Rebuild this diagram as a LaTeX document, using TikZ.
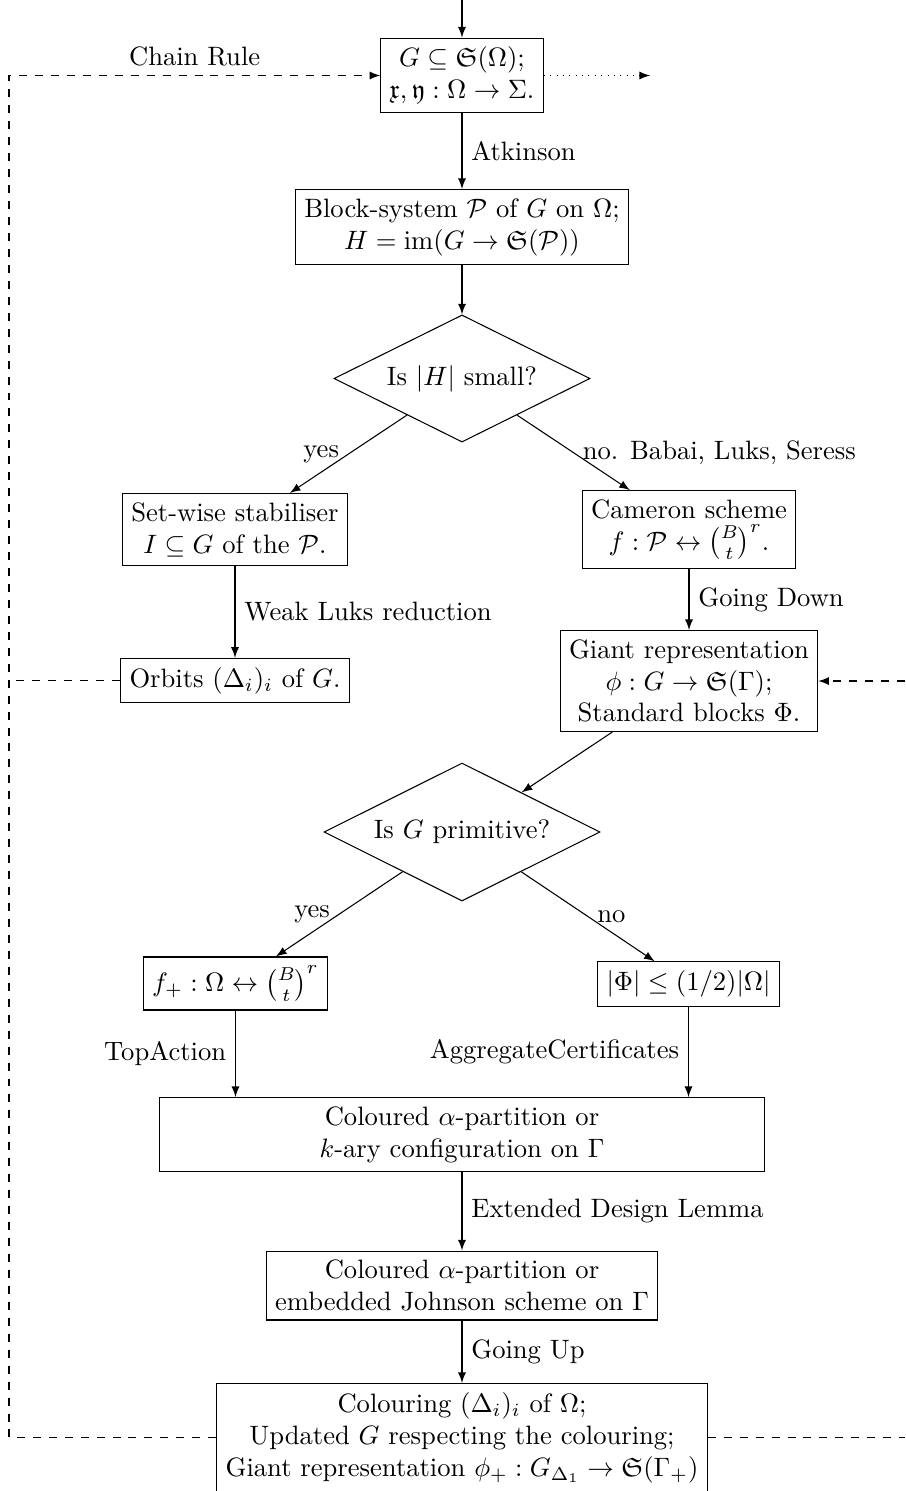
\documentclass[tikz,border=0pt]{standalone}
\usepackage{amsmath,amssymb}
\usetikzlibrary{shapes.geometric}
\tikzset{
  box/.style={draw, align=center, inner sep=3.333pt},
  dia/.style={draw, diamond, shape aspect=2, inner sep=0pt, align=center},
  arr/.style={-latex},
}
\begin{document}
\begin{tikzpicture}[x=0.3761pt, y=-0.3761pt]
\useasboundingbox (0,0) rectangle (905,1491);
% nodes
\node[box] (top) at (462,75.5) {$G \subseteq \mathfrak{S}(\Omega)$;\\ $\mathfrak{x},\mathfrak{y} : \Omega \to \Sigma$.};
\node[box] (block) at (462,227) {Block-system $\mathcal{P}$ of $G$ on $\Omega$;\\ $H = \mathrm{im}(G \to \mathfrak{S}(\mathcal{P}))$};
\node[dia, minimum width=96.3pt, minimum height=47.8pt] (d1) at (462,378.5) {Is $|H|$ small?};
\node[box] (sw) at (235,529.5) {Set-wise stabiliser\\ $I \subseteq G$ of the $\mathcal{P}$.};
\node[box] (cam) at (689,529.5) {Cameron scheme\\ $f : \mathcal{P} \leftrightarrow \binom{B}{t}^r$.};
\node[box] (orb) at (235,680.5) {Orbits $(\Delta_i)_i$ of $G$.};
\node[box] (giant) at (689,681) {Giant representation\\ $\phi : G \to \mathfrak{S}(\Gamma)$;\\ Standard blocks $\Phi$.};
\node[dia, minimum width=103.8pt, minimum height=51.9pt] (d2) at (462,832) {Is $G$ primitive?};
\node[box] (fp) at (235.5,983.5) {$f_+ : \Omega \leftrightarrow \binom{B}{t}^r$};
\node[box] (phi) at (688.5,984) {$|\Phi| \leq (1/2)|\Omega|$};
\node[box, minimum width=227.5pt] (col1) at (462,1134.5) {Coloured $\alpha$-partition or\\ $k$-ary configuration on $\Gamma$};
\node[box] (col2) at (462,1285.5) {Coloured $\alpha$-partition or\\ embedded Johnson scheme on $\Gamma$};
\node[box, anchor=north] (bot) at (462,1383) {Colouring $(\Delta_i)_i$ of $\Omega$;\\ Updated $G$ respecting the colouring;\\ Giant representation $\phi_+ : G_{\Delta_1} \to \mathfrak{S}(\Gamma_+)$};
% helper coordinates
\coordinate (in) at (462,0);
\coordinate (lx) at (9,0);
\coordinate (rx) at (905,0);
\coordinate (ox) at (650,0);
% connectors
\draw[arr] (in) -- (top);
\draw[arr] (top) -- node[right]{Atkinson} (block);
\draw[arr] (block) -- (d1);
\draw[arr] (d1) -- node[left]{yes} (sw);
\draw[arr] (d1) -- node[right]{no. Babai, Luks, Seress} (cam);
\draw[arr] (sw) -- node[right]{Weak Luks reduction} (orb);
\draw[arr] (cam) -- node[right]{Going Down} (giant);
\draw[arr] (giant) -- (d2);
\draw[arr] (d2) -- node[left]{yes} (fp);
\draw[arr] (d2) -- node[right]{no} (phi);
\draw[arr] (fp) -- node[left]{TopAction} (fp |- col1.north);
\draw[arr] (phi) -- node[left]{AggregateCertificates} (phi |- col1.north);
\draw[arr] (col1) -- node[right]{Extended Design Lemma} (col2);
\draw[arr] (col2) -- node[right]{Going Up} (bot);
% dashed feedback
\draw[dashed, arr] (bot.west) -- (bot.west -| lx) |- node[above, pos=0.75]{Chain Rule} (top.west);
\draw[dashed] (orb.west) -- (orb.west -| lx);
\draw[dashed] (bot.east) -- (bot.east -| rx);
\draw[dashed, arr] (giant.east -| rx) -- (giant.east);
\draw[dotted, arr] (top.east) -- (top.east -| ox);
\end{tikzpicture}
\end{document}
